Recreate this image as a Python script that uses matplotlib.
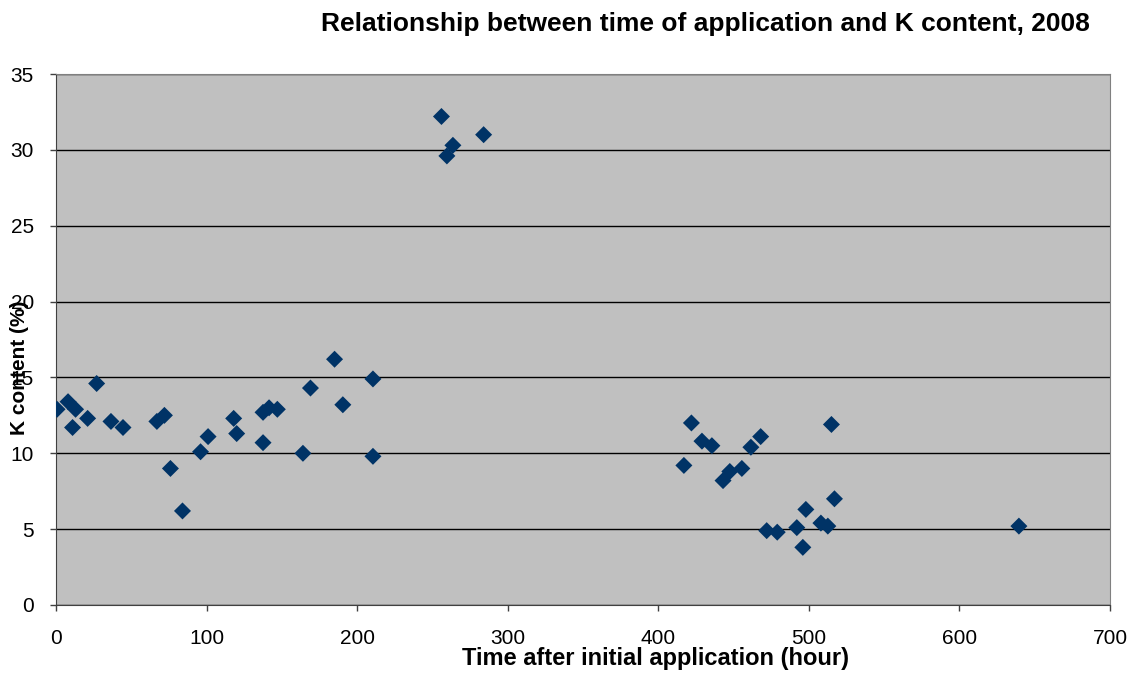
import matplotlib
matplotlib.use('Agg')
import matplotlib.pyplot as plt

plt.rcParams['font.family'] = ['Liberation Sans', 'DejaVu Sans']

# time after initial application (hour) and K content (%)
hours = [0.7, 8, 13, 11, 21, 27, 36.5, 44.5, 67, 72, 76, 84, 96, 101,
         118, 120, 137.5, 137.5, 141.5, 147, 164, 169, 185, 190.5, 210.5, 210.5,
         256, 263.6, 259.6, 284,
         422, 429, 435.6, 417, 443, 447.5, 455.5, 461.5, 468, 515, 517, 498,
         472, 479, 492, 496, 508, 512.6, 639.5]
k_content = [12.9, 13.4, 12.9, 11.7, 12.3, 14.6, 12.1, 11.7, 12.1, 12.5, 9.0, 6.2, 10.1, 11.1,
             12.3, 11.3, 12.7, 10.7, 13.0, 12.9, 10.0, 14.3, 16.2, 13.2, 14.9, 9.8,
             32.2, 30.3, 29.6, 31.0,
             12.0, 10.8, 10.5, 9.2, 8.2, 8.8, 9.0, 10.4, 11.1, 11.9, 7.0, 6.3,
             4.9, 4.8, 5.1, 3.8, 5.4, 5.2, 5.2]

x_ticks = [0, 100, 200, 300, 400, 500, 600, 700]
y_ticks = [0, 5, 10, 15, 20, 25, 30, 35]

fig = plt.figure(figsize=(11.41, 6.73), dpi=100)
ax = fig.add_axes([56/1141, 1-605/673, 1054/1141, 531/673])
ax.set_facecolor('#C0C0C0')

ax.scatter(hours, k_content, marker='D', s=75, color='#003366', edgecolors='none', zorder=3)

ax.set_xlim(0, 700)
ax.set_ylim(0, 35)
ax.set_xticks(x_ticks)
ax.set_yticks(y_ticks)
ax.tick_params(axis='both', direction='out', length=4, width=1, color='#404040', labelsize=15)
ax.tick_params(axis='x', pad=13)
ax.tick_params(axis='y', pad=12)
ax.yaxis.grid(True, color='black', linewidth=1)
ax.set_axisbelow(True)
for s in ax.spines.values():
    s.set_color('#808080')
ax.spines['left'].set_color('#404040')
ax.spines['bottom'].set_color('#404040')

fig.text(705/1141, 1-24/673, 'Relationship between time of application and K content, 2008',
         ha='center', va='center', fontsize=19, fontweight='bold')
fig.text(656/1141, 1-659/673, 'Time after initial application (hour)',
         ha='center', va='center', fontsize=17, fontweight='bold')
fig.text(20/1141, 1-368/673, 'K content (%)', rotation=90,
         ha='center', va='center', fontsize=15, fontweight='bold')

fig.savefig('out.png', dpi=100)
